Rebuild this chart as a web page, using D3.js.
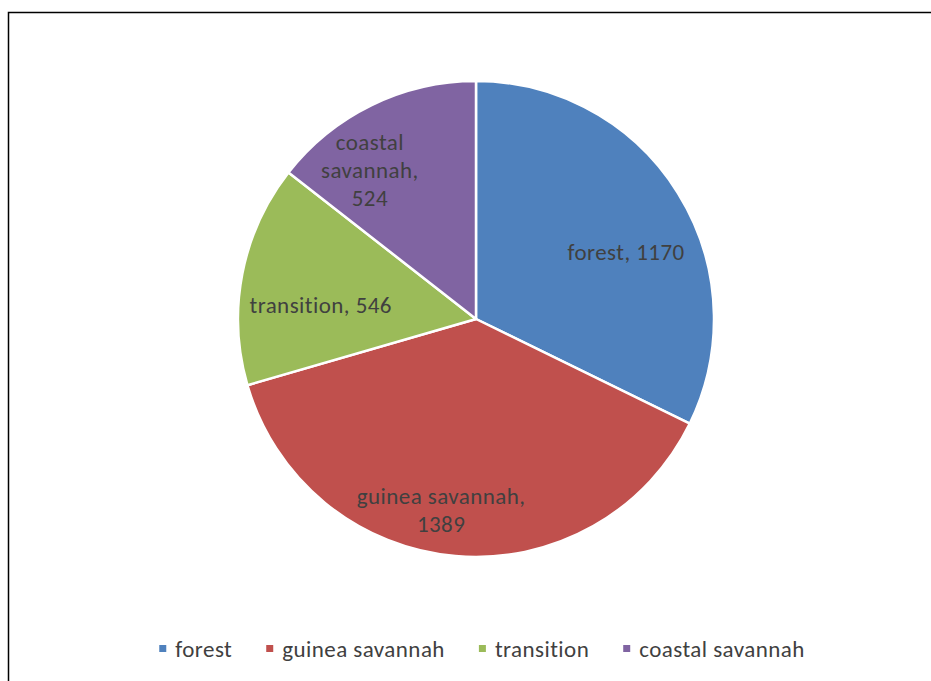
<!DOCTYPE html>
<html>
<head>
<meta charset="utf-8">
<script src="https://cdn.jsdelivr.net/npm/d3@7"></script>
<style>
  html, body { margin: 0; padding: 0; background: #fff; }
  svg { display: block; }
  text { font-family: Carlito, Calibri, Lato, "Liberation Sans", sans-serif; fill: #404040;
         font-variant-ligatures: none; font-feature-settings: "liga" 0; }
</style>
</head>
<body>
<svg id="chart" width="931" height="681"></svg>
<script>
// Land zones and their counts
const categories = ["forest", "guinea savannah", "transition", "coastal savannah"];
const values = [1170, 1389, 546, 524];
const colors = ["#4F81BD", "#C0504D", "#9BBB59", "#8064A2"];

// Label text lines per slice (how the data labels wrap)
const labelLines = [
  ["forest, 1170"],
  ["guinea savannah,", "1389"],
  ["transition, 546"],
  ["coastal", "savannah,", "524"]
];
// Label placement: distance as fraction of radius, angle nudge from slice middle (degrees)
const labelPlacement = [
  { r: 0.69, da: 8 },
  { r: 0.815, da: 5.4 },
  { r: 0.655, da: -5.8 },
  { r: 0.77, da: -9.4 }
];

const svg = d3.select("#chart");
const W = 931, H = 681;

// outer frame
svg.append("rect")
  .attr("x", 8.5).attr("y", 12.5)
  .attr("width", W + 20).attr("height", H + 20)
  .attr("fill", "none").attr("stroke", "#000").attr("stroke-width", 1.5);

const cx = 476, cy = 319, radius = 238;
const g = svg.append("g").attr("transform", `translate(${cx},${cy})`);

const pie = d3.pie().sort(null).value(d => d.value);
const data = categories.map((c, i) => ({ name: c, value: values[i], color: colors[i], i }));
const arcs = pie(data);
const arc = d3.arc().innerRadius(0).outerRadius(radius);

g.selectAll("path.slice")
  .data(arcs)
  .join("path")
  .attr("class", "slice")
  .attr("d", arc)
  .attr("fill", d => d.data.color)
  .attr("stroke", "#fff")
  .attr("stroke-width", 2.5)
  .attr("stroke-linejoin", "round");

// data labels
const fontSize = 23, lineH = 28, spacing = 0.45;
arcs.forEach((a, i) => {
  const p = labelPlacement[i];
  const ang = (a.startAngle + a.endAngle) / 2 + p.da * Math.PI / 180;
  const r = p.r * radius;
  const x = r * Math.sin(ang), y = -r * Math.cos(ang);
  const lines = labelLines[i];
  const t = g.append("text")
    .attr("text-anchor", "middle")
    .attr("font-size", fontSize)
    .attr("letter-spacing", spacing);
  lines.forEach((ln, k) => {
    t.append("tspan")
      .attr("x", x)
      .attr("y", y + (k - (lines.length - 1) / 2) * lineH)
      .attr("dy", "0.35em")
      .text(ln);
  });
});

// legend
const legY = 649, legFont = 23, sw = 7, gapMarker = 9, gapItem = 34;
const leg = svg.append("g");
let xpos = 0;
data.forEach((d, i) => {
  const item = leg.append("g").attr("transform", `translate(${xpos},0)`);
  item.append("rect")
    .attr("x", 0).attr("y", legY - sw / 2 - 0.5)
    .attr("width", sw).attr("height", sw)
    .attr("fill", d.color);
  const tx = item.append("text")
    .attr("x", sw + gapMarker).attr("y", legY)
    .attr("dy", "0.35em")
    .attr("font-size", legFont)
    .attr("letter-spacing", spacing)
    .text(d.name);
  const w = tx.node().getComputedTextLength();
  xpos += sw + gapMarker + w + gapItem;
});
const total = xpos - gapItem;
leg.attr("transform", `translate(${482 - total / 2},0)`);
</script>
</body>
</html>
